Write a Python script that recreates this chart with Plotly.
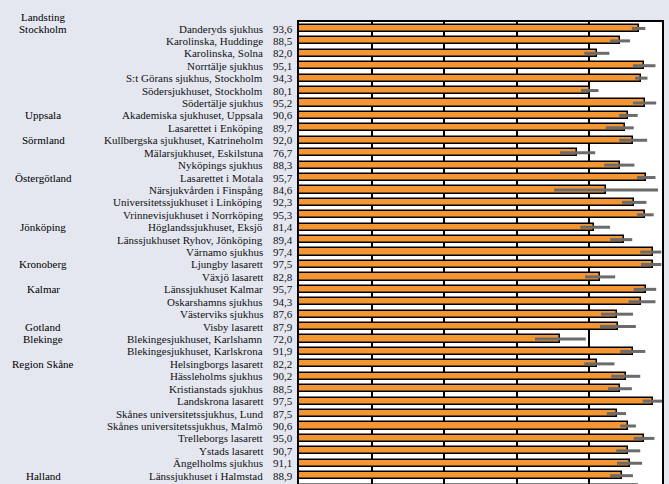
import plotly.graph_objects as go

hospitals = [
    "Danderyds sjukhus", "Karolinska, Huddinge", "Karolinska, Solna", "Norrtälje sjukhus",
    "S:t Görans sjukhus, Stockholm", "Södersjukhuset, Stockholm", "Södertälje sjukhus",
    "Akademiska sjukhuset, Uppsala", "Lasarettet i Enköping",
    "Kullbergska sjukhuset, Katrineholm", "Mälarsjukhuset, Eskilstuna", "Nyköpings sjukhus",
    "Lasarettet i Motala", "Närsjukvården i Finspång", "Universitetssjukhuset i Linköping",
    "Vrinnevisjukhuset i Norrköping",
    "Höglandssjukhuset, Eksjö", "Länssjukhuset Ryhov, Jönköping", "Värnamo sjukhus",
    "Ljungby lasarett", "Växjö lasarett",
    "Länssjukhuset Kalmar", "Oskarshamns sjukhus", "Västerviks sjukhus",
    "Visby lasarett",
    "Blekingesjukhuset, Karlshamn", "Blekingesjukhuset, Karlskrona",
    "Helsingborgs lasarett", "Hässleholms sjukhus", "Kristianstads sjukhus", "Landskrona lasarett",
    "Skånes universitetssjukhus, Lund", "Skånes universitetssjukhus, Malmö", "Trelleborgs lasarett",
    "Ystads lasarett", "Ängelholms sjukhus",
    "Länssjukhuset i Halmstad", "Varbergs sjukhus",
]

regions = [
    "Stockholm", "", "", "", "", "", "",
    "Uppsala", "",
    "Sörmland", "", "",
    "Östergötland", "", "", "",
    "Jönköping", "", "",
    "Kronoberg", "",
    "Kalmar", "", "",
    "Gotland",
    "Blekinge", "",
    "Region Skåne", "", "", "", "", "", "", "", "",
    "Halland", "",
]

values = [
    93.6, 88.5, 82.0, 95.1, 94.3, 80.1, 95.2,
    90.6, 89.7,
    92.0, 76.7, 88.3,
    95.7, 84.6, 92.3, 95.3,
    81.4, 89.4, 97.4,
    97.5, 82.8,
    95.7, 94.3, 87.6,
    87.9,
    72.0, 91.9,
    82.2, 90.2, 88.5, 97.5, 87.5, 90.6, 95.0, 90.7, 91.1,
    88.9, 93.3,
]

ci_low = [
    91.7, 85.7, 78.6, 92.0, 92.6, 77.7, 92.0,
    88.2, 84.5,
    88.2, 71.9, 84.1,
    93.1, 70.3, 89.0, 93.1,
    77.5, 85.7, 94.0,
    94.2, 78.8,
    92.2, 90.8, 83.2,
    82.9,
    65.0, 88.5,
    78.6, 86.0, 85.1, 94.7, 84.8, 88.5, 92.2, 87.4, 87.6,
    85.7, 90.0,
]

ci_high = [
    95.4, 91.2, 85.5, 98.2, 96.0, 82.5, 98.4,
    93.3, 92.2,
    95.9, 81.6, 92.4,
    98.2, 98.9, 95.7, 97.7,
    85.7, 91.8, 99.8,
    99.8, 87.1,
    98.4, 98.2, 92.0,
    92.8,
    79.0, 95.4,
    86.9, 94.0, 91.7, 100.0, 90.1, 92.8, 97.9, 94.0, 94.5,
    92.0, 96.0,
]

header = "Landsting"

BG = "#E4E7F0"
rows = list(range(len(hospitals)))
err_plus = [h - v for h, v in zip(ci_high, values)]
err_minus = [v - l for v, l in zip(values, ci_low)]

fig = go.Figure()
fig.add_trace(go.Bar(
    x=values, y=rows, orientation="h", width=0.58,
    marker=dict(color="#F59634", line=dict(color="black", width=1.5)),
    error_x=dict(type="data", symmetric=False, array=err_plus, arrayminus=err_minus,
                 color="#6b6b6b", thickness=3, width=0),
    hoverinfo="x+y",
))

font = dict(family="Liberation Serif, Times New Roman, serif", size=11, color="#111111")
rfont = dict(family="Liberation Serif, Times New Roman, serif", size=11, color="#000000")
PLOT_H = 462.0
TOP = 22.0
PITCH = 12.42
ROW0 = 28.5


def row_paper_y(i):
    px = ROW0 + i * PITCH
    return 1 - (px - TOP) / PLOT_H


annotations = []
for i, (h, r, v) in enumerate(zip(hospitals, regions, values)):
    py = row_paper_y(i)
    annotations.append(dict(x=0, xref="paper", y=py, yref="paper", text=h, showarrow=False,
                            xanchor="right", yanchor="middle", xshift=-34, font=font))
    annotations.append(dict(x=0, xref="paper", y=py, yref="paper", text=f"{v:.1f}".replace(".", ","),
                            showarrow=False, xanchor="left", yanchor="middle", xshift=-28, font=font))
    if r:
        annotations.append(dict(x=0, xref="paper", y=py, yref="paper", text=r, showarrow=False,
                                xanchor="center", yanchor="middle", xshift=-256, font=rfont))
annotations.append(dict(x=0, xref="paper", y=1 + (TOP - 17) / PLOT_H, yref="paper", text=header,
                        showarrow=False, xanchor="center", yanchor="middle", xshift=-256, font=rfont))

fig.update_layout(
    width=669, height=484,
    margin=dict(l=299, r=7, t=22, b=0, pad=0),
    paper_bgcolor=BG, plot_bgcolor="white",
    showlegend=False, bargap=0,
    annotations=annotations,
    xaxis=dict(range=[0, 100], dtick=20, showgrid=True, gridcolor="black", gridwidth=1.5,
               zeroline=False, showticklabels=False, ticks="", side="top",
               showline=True, linecolor="black", linewidth=1.5, mirror=False, fixedrange=True),
    yaxis=dict(range=[36.67, -0.52], showgrid=False, zeroline=False, showticklabels=False,
               ticks="", showline=True, linecolor="black", linewidth=1.5, mirror=True,
               fixedrange=True),
)

fig.write_html(
    "out.html",
    config={"displayModeBar": False},
    post_script=f"document.body.style.margin='0';document.body.style.background='{BG}';",
)
